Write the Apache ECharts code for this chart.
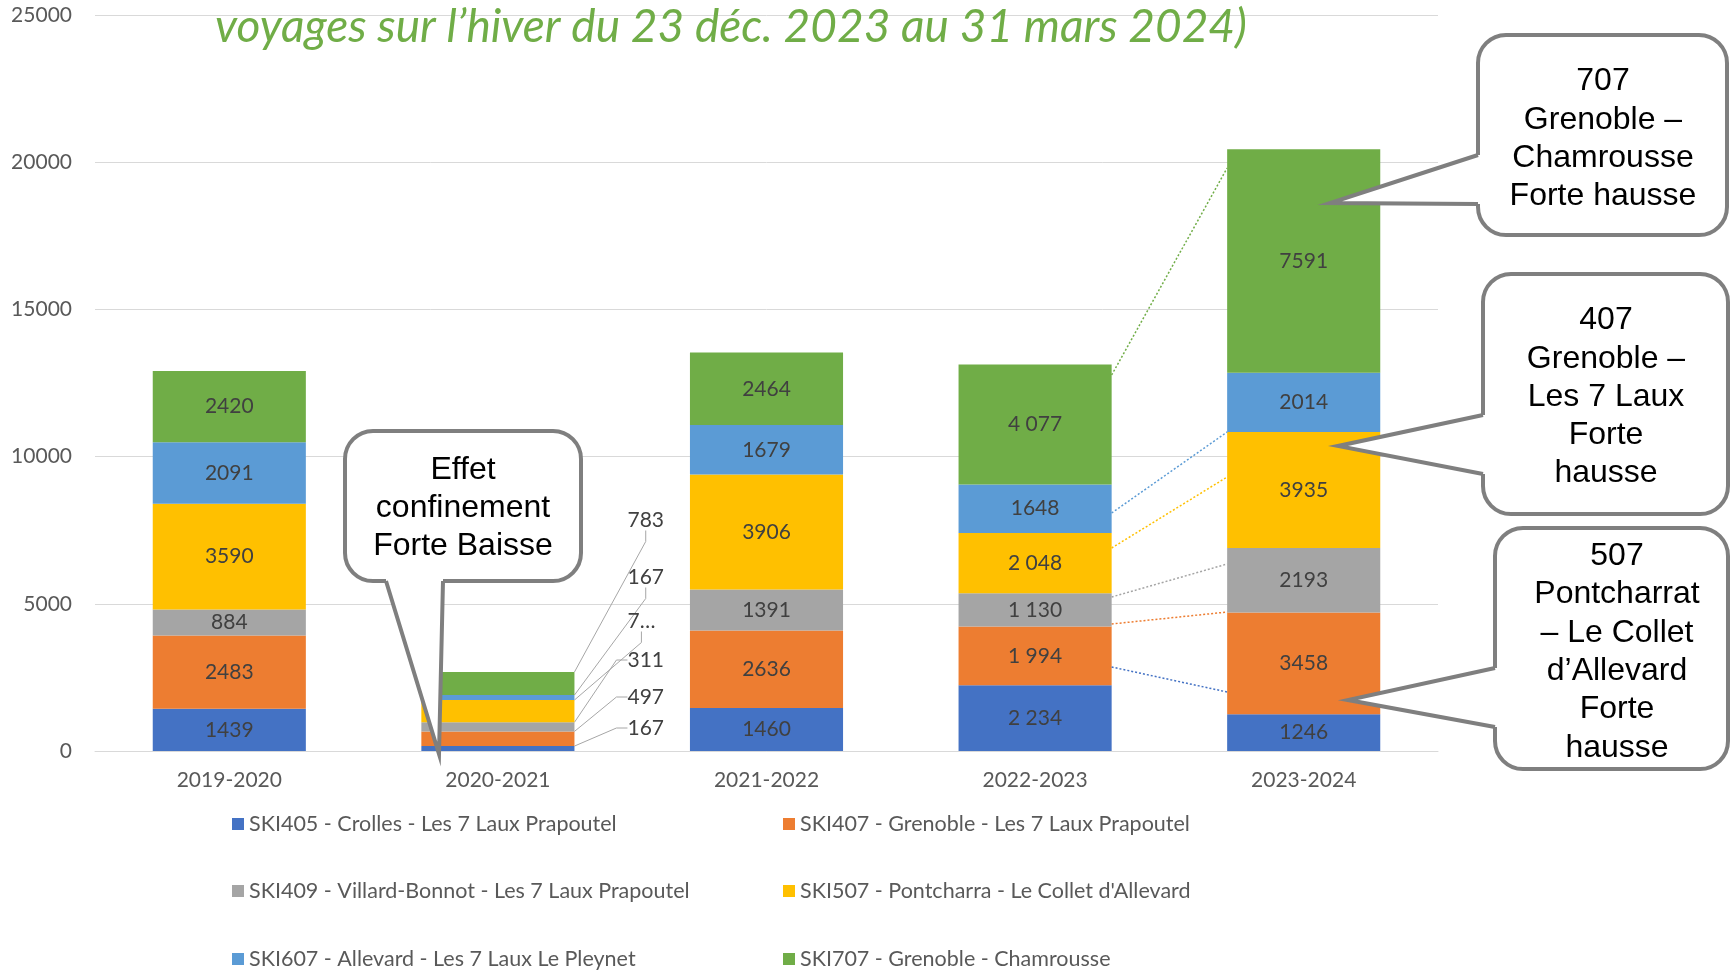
<!DOCTYPE html>
<html>
<head>
<meta charset="utf-8">
<script src="https://cdn.jsdelivr.net/npm/echarts@6/dist/echarts.min.js"></script>
<style>
  html, body { margin: 0; padding: 0; background: #fff; }
  #chart { width: 1730px; height: 970px; }
</style>
</head>
<body>
<div id="chart"></div>
<script>
// saisons
const categories = ['2019-2020', '2020-2021', '2021-2022', '2022-2023', '2023-2024'];

// voyages par ligne
const ski405 = [1439, 167, 1460, 2234, 1246];
const ski407 = [2483, 497, 2636, 1994, 3458];
const ski409 = [884, 311, 1391, 1130, 2193];
const ski507 = [3590, 757, 3906, 2048, 3935];
const ski607 = [2091, 167, 1679, 1648, 2014];
const ski707 = [2420, 783, 2464, 4077, 7591];

const lineNames = [
  'SKI405 - Crolles - Les 7 Laux Prapoutel',
  'SKI407 - Grenoble - Les 7 Laux Prapoutel',
  'SKI409 - Villard-Bonnot - Les 7 Laux Prapoutel',
  'SKI507 - Pontcharra - Le Collet d\'Allevard',
  'SKI607 - Allevard - Les 7 Laux Le Pleynet',
  'SKI707 - Grenoble - Chamrousse'
];
const yTicks = [0, 5000, 10000, 15000, 20000, 25000];

const colors = ['#4472C4', '#ED7D31', '#A5A5A5', '#FFC000', '#5B9BD5', '#70AD47'];
const allValues = [ski405, ski407, ski409, ski507, ski607, ski707];

const chart = echarts.init(document.getElementById('chart'));
const GRID = { left: 95, right: 292, top: 15, bottom: 219 };
const zeroY = 970 - GRID.bottom;
// decalage vertical des etiquettes sorties de la colonne 2020-2021
const outOffsets = [23, 54, 91, 130, 174, 231];

function fmt(p) {
  // la saison 2022-2023 a des separateurs de milliers (sauf 607)
  if (p.dataIndex === 3 && p.seriesIndex !== 4 && p.value >= 1000) {
    const s = String(p.value);
    return s.slice(0, s.length - 3) + ' ' + s.slice(-3);
  }
  return String(p.value);
}

const series = allValues.map(function (vals, si) {
  return {
    name: lineNames[si],
    type: 'bar',
    stack: 'total',
    barWidth: '57%',
    itemStyle: { color: colors[si] },
    emphasis: { disabled: true },
    label: {
      show: true, position: 'inside', color: '#404040',
      fontSize: 21, fontFamily: 'Lato', formatter: fmt
    },
    labelLayout: function (p) {
      if (p.dataIndex !== 1) return {};
      return {
        x: p.rect.x + p.rect.width + 53,
        y: zeroY - outOffsets[p.seriesIndex],
        align: 'left', verticalAlign: 'middle'
      };
    },
    data: vals.map(function (v, ci) {
      if (ci !== 1) return v;
      const lab = { position: 'right', color: '#404040' };
      if (si === 3) {
        lab.width = 31; lab.overflow = 'truncate'; lab.ellipsis = '…';
      }
      return {
        value: v,
        label: lab,
        labelLine: { show: true, length2: 11, lineStyle: { color: '#a6a6a6', width: 1 } }
      };
    })
  };
});

// legende : deux colonnes, trois lignes
const legendPos = [[227, 807], [778, 807], [227, 874], [778, 874], [227, 942], [778, 942]];
const legends = lineNames.map(function (n, i) {
  return {
    left: legendPos[i][0], top: legendPos[i][1],
    data: [n],
    icon: 'rect', itemWidth: 12, itemHeight: 12,
    textStyle: { fontSize: 21.5, color: '#595959', fontFamily: 'Lato', lineHeight: 24 },
    selectedMode: false
  };
});

chart.setOption({
  animation: false,
  grid: GRID,
  legend: legends,
  xAxis: {
    type: 'category',
    data: categories,
    axisLine: { lineStyle: { color: '#d9d9d9', width: 1 } },
    axisTick: { show: false },
    axisLabel: { fontSize: 21, color: '#595959', fontFamily: 'Lato', margin: 19 }
  },
  yAxis: {
    type: 'value',
    min: yTicks[0], max: yTicks[yTicks.length - 1], interval: 5000,
    axisLine: { show: false },
    axisTick: { show: false },
    splitLine: { lineStyle: { color: '#d9d9d9', width: 1 } },
    axisLabel: {
      fontSize: 21, color: '#595959', fontFamily: 'Lato', margin: 23,
      formatter: function (v) { return String(v); }
    }
  },
  series: series
});

// ---- annotations ----
const g = [];

g.push({
  type: 'text', x: 731, y: 27, z: 50,
  style: {
    text: 'voyages sur l’hiver du 23 déc. 2023 au 31 mars 2024)',
    font: 'italic 46px Lato', fill: '#70AD47',
    textAlign: 'center', textVerticalAlign: 'middle'
  }
});

// lignes pointillees entre 2022-2023 et 2023-2024
const x3 = chart.convertToPixel({ xAxisIndex: 0 }, 3);
const x4 = chart.convertToPixel({ xAxisIndex: 0 }, 4);
const half = (x4 - x3) * 0.57 / 2;
const links = [
  [12772, 19803, 5], [8084, 10836, 4], [6895, 9307, 3],
  [5231, 6352, 2], [4314, 4721, 1], [2853, 2004, 0]
];
links.forEach(function (l) {
  g.push({
    type: 'line', z: 20,
    shape: {
      x1: x3 + half, y1: chart.convertToPixel({ yAxisIndex: 0 }, l[0]),
      x2: x4 - half, y2: chart.convertToPixel({ yAxisIndex: 0 }, l[1])
    },
    style: { stroke: colors[l[2]], lineWidth: 1.5, lineDash: [2, 2] }
  });
});

// bulles
function bubble(box, b1, b2, tip, inset, text, cx, cy) {
  const stroke = '#7f7f7f';
  g.push({
    type: 'rect', z: 100,
    shape: { x: box[0], y: box[1], width: box[2] - box[0], height: box[3] - box[1], r: 28 },
    style: { fill: '#fff', stroke: stroke, lineWidth: 4 }
  });
  g.push({
    type: 'polygon', z: 101,
    shape: { points: [b1, tip, b2, [b2[0] + inset[0], b2[1] + inset[1]], [b1[0] + inset[0], b1[1] + inset[1]]] },
    style: { fill: '#fff' }
  });
  g.push({
    type: 'polyline', z: 102,
    shape: { points: [b1, tip, b2] },
    style: { stroke: stroke, lineWidth: 4, fill: null, lineJoin: 'miter' }
  });
  g.push({
    type: 'text', x: cx, y: cy, z: 103,
    style: {
      text: text, font: '32px "Liberation Sans", Arial', fill: '#000',
      textAlign: 'center', textVerticalAlign: 'middle', lineHeight: 38.3
    }
  });
}

bubble([345, 431, 581, 581], [386, 581], [443, 581], [439, 754], [0, -5],
  'Effet\nconfinement\nForte Baisse', 463, 508);
bubble([1478, 35, 1727, 235], [1478, 155], [1478, 204], [1330, 203], [6, 0],
  '707\nGrenoble –\nChamrousse\nForte hausse', 1603, 139);
bubble([1483, 274, 1728, 514], [1483, 415], [1483, 474], [1338, 446], [6, 0],
  '407\nGrenoble –\nLes 7 Laux\nForte\nhausse', 1606, 397);
bubble([1495, 528, 1728, 769], [1495, 668], [1495, 727], [1348, 700], [6, 0],
  '507\nPontcharrat\n– Le Collet\nd’Allevard\nForte\nhausse', 1617, 652);

chart.setOption({ graphic: g });
</script>
</body>
</html>
